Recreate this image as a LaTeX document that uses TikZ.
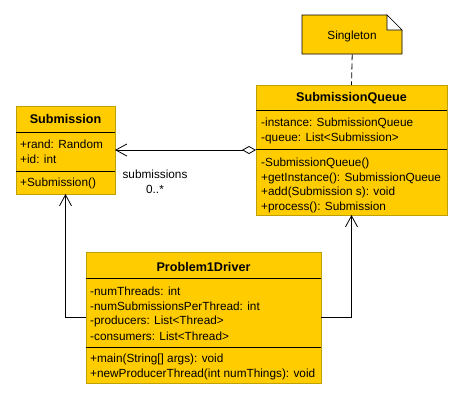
\documentclass[tikz,border=0pt]{standalone}
\usepackage{fontspec}
\setmainfont{Liberation Sans}
\usetikzlibrary{arrows.meta}
\definecolor{classfill}{RGB}{255,204,0}
\definecolor{classborder}{RGB}{190,160,0}
\begin{document}
\begin{tikzpicture}[x=1pt,y=-1pt,
  classbox/.style={draw=classborder,fill=classfill,line width=0.8pt,anchor=north west,inner sep=0pt,outer sep=0pt},
  divider/.style={draw=black,line width=0.7pt},
  member/.style={anchor=west,inner sep=0pt,font=\fontsize{11.8}{13}\selectfont},
  title/.style={inner sep=0pt,font=\fontsize{12.6}{14}\selectfont\bfseries},
  conn/.style={draw=black,line width=0.8pt},
  openarrow/.style={-{Straight Barb[length=11pt,width=12pt,line width=0.8pt]}},
  lbl/.style={inner sep=0pt,font=\fontsize{11.8}{13}\selectfont}]
\useasboundingbox (0,0) rectangle (463,400);
\fill[white] (0,0) rectangle (463,400);

% Submission
\node[classbox,minimum width=99pt,minimum height=88pt] (sub) at (16,106) {};
\draw[divider] (16,132) -- (115,132);
\draw[divider] (16,171) -- (115,171);
\node[title] (subT) at (65.5,119) {Submission};
\node[member] (subA1) at (20,144) {+rand: Random};
\node[member] (subA2) at (20,159) {+id: int};
\node[member] (subM1) at (20,183) {+Submission()};

% SubmissionQueue
\node[classbox,minimum width=191pt,minimum height=130pt] (sq) at (256,85) {};
\draw[divider] (256,110) -- (447,110);
\draw[divider] (256,149) -- (447,149);
\node[title] (sqT) at (351.5,98) {SubmissionQueue};
\node[member] (sqA1) at (261,123) {-instance: SubmissionQueue};
\node[member] (sqA2) at (261,138) {-queue: List<Submission>};
\node[member] (sqM1) at (261,163) {-SubmissionQueue()};
\node[member] (sqM2) at (261,178) {+getInstance(): SubmissionQueue};
\node[member] (sqM3) at (261,192) {+add(Submission s): void};
\node[member] (sqM4) at (261,207) {+process(): Submission};

% Problem1Driver
\node[classbox,minimum width=235pt,minimum height=131pt] (p1d) at (86,252) {};
\draw[divider] (86,278) -- (321,278);
\draw[divider] (86,347) -- (321,347);
\node[title] (p1dT) at (203.5,267) {Problem1Driver};
\node[member] (p1dA1) at (90,291) {-numThreads: int};
\node[member] (p1dA2) at (90,306) {-numSubmissionsPerThread: int};
\node[member] (p1dA3) at (90,321) {-producers: List<Thread>};
\node[member] (p1dA4) at (90,336) {-consumers: List<Thread>};
\node[member] (p1dM1) at (90,359) {+main(String[] args): void};
\node[member] (p1dM2) at (90,374) {+newProducerThread(int numThings): void};

% Note
\filldraw[fill=classfill,draw=black,line width=0.7pt] (302,15) -- (387,15) -- (402,30) -- (402,54) -- (302,54) -- cycle;
\filldraw[fill=white,draw=black,line width=0.7pt] (387,15) -- (387,30) -- (402,30) -- cycle;
\node[lbl,minimum width=100pt,minimum height=39pt,anchor=north west] (note) at (302,15) {};
\node[lbl] (noteT) at (352,36) {Singleton};

% connectors
\draw[conn,{Diamond[open,length=14pt,width=8pt,line width=0.8pt]}-{Straight Barb[length=11pt,width=12pt,line width=0.8pt]}] (sq.west) -- (sub.east);
\node[lbl] (assocName) at (155,174) {submissions};
\node[lbl] (assocMult) at (155,189) {0..*};
\draw[conn,openarrow] (p1d.west) -| (sub.south);
\draw[conn,openarrow] (p1d.east) -| (sq.south);
\draw[conn,dash pattern=on 6pt off 3pt] (note.south) -- (sq.north);
\end{tikzpicture}
\end{document}
